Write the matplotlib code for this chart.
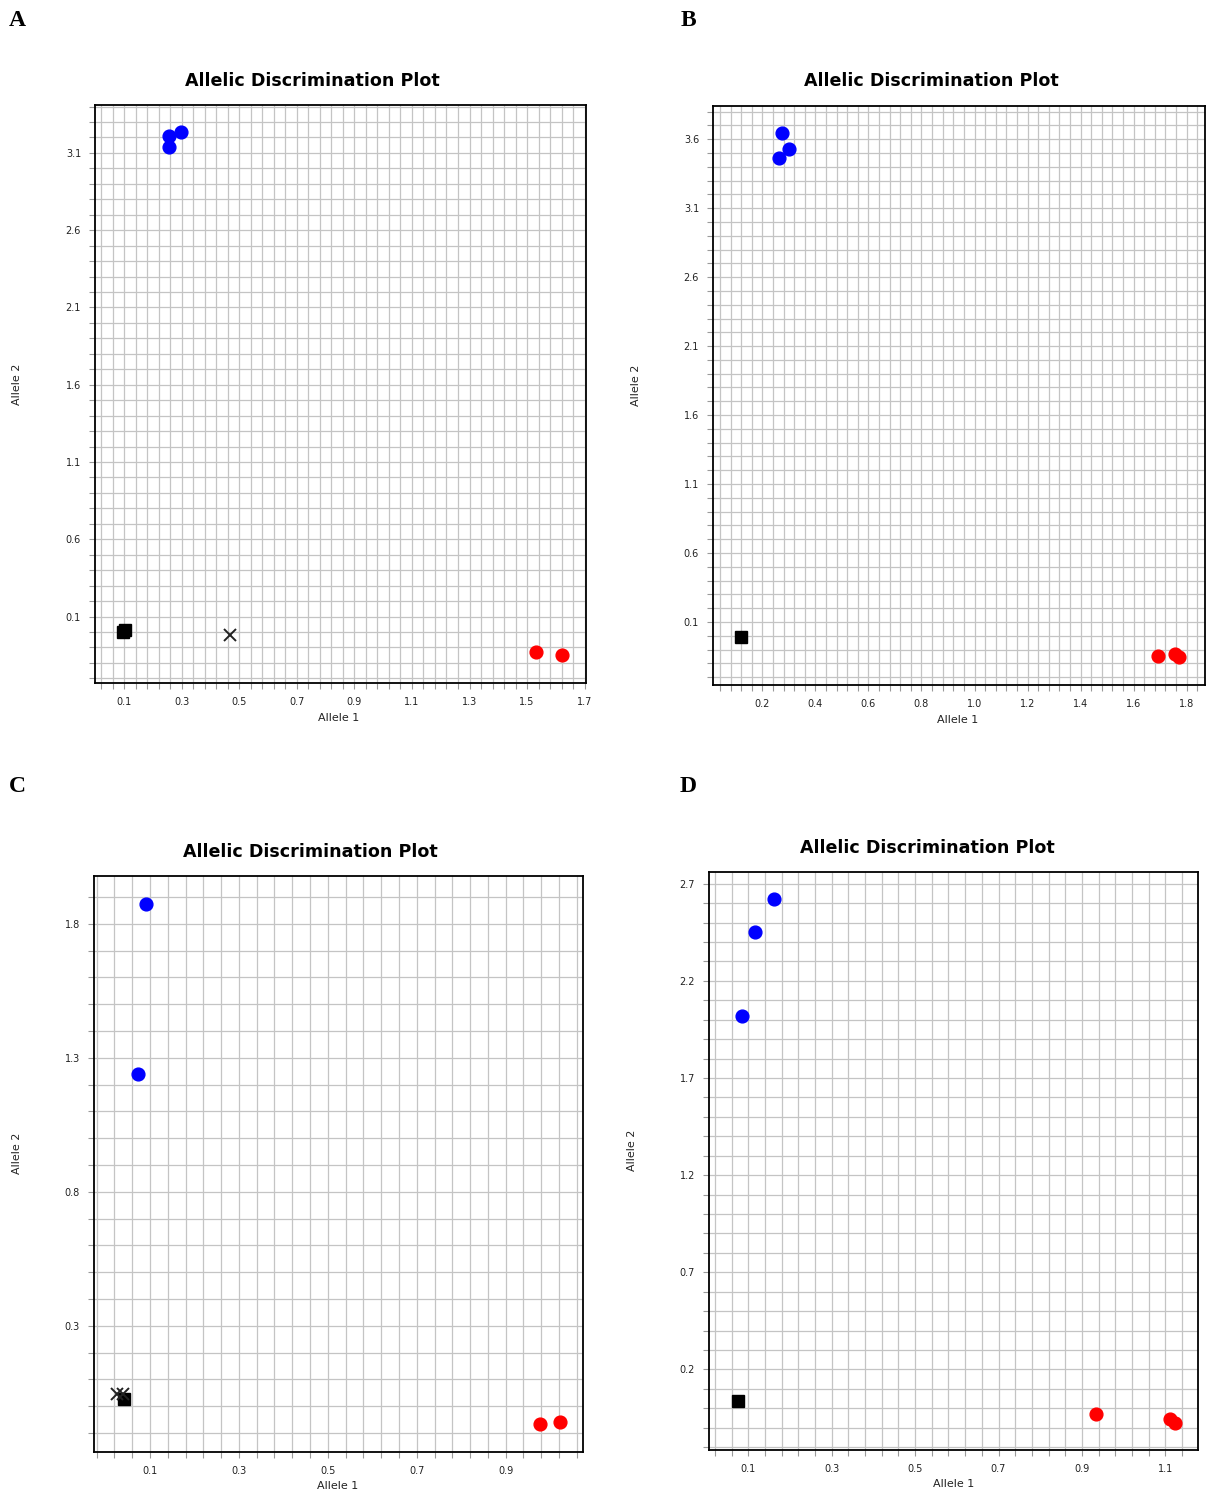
"""
Four allelic discrimination plots (panels A-D) recreated with matplotlib.
"""

import matplotlib as mpl
import matplotlib.pyplot as plt
import numpy as np

DPI = 100
mpl.rcParams.update(
    {
        "font.family": "DejaVu Sans",
        "axes.linewidth": 1.3,
        "xtick.direction": "out",
        "ytick.direction": "out",
    }
)

# ---- data (Allele 1, Allele 2) ----
A_blue_x = [0.257, 0.298, 0.257]
A_blue_y = [3.208, 3.234, 3.139]
A_red_x = [1.531, 1.622]
A_red_y = [-0.132, -0.148]
A_sq_x = [0.096, 0.101]
A_sq_y = [0.000, 0.014]
A_x_x = [0.468]
A_x_y = [-0.021]

B_blue_x = [0.273, 0.299, 0.262]
B_blue_y = [3.644, 3.527, 3.462]
B_red_x = [1.693, 1.757, 1.772]
B_red_y = [-0.143, -0.133, -0.150]
B_sq_x = [0.121]
B_sq_y = [-0.005]
B_x_x = []
B_x_y = []

C_blue_x = [0.090, 0.074]
C_blue_y = [1.875, 1.240]
C_red_x = [0.977, 1.022]
C_red_y = [-0.067, -0.058]
C_sq_x = [0.042]
C_sq_y = [0.026]
C_x_x = [0.025, 0.039]
C_x_y = [0.045, 0.047]

D_blue_x = [0.162, 0.116, 0.085]
D_blue_y = [2.621, 2.451, 2.020]
D_red_x = [0.934, 1.112, 1.124]
D_red_y = [-0.029, -0.058, -0.075]
D_sq_x = [0.076]
D_sq_y = [0.035]
D_x_x = []
D_x_y = []

# tick labels shown on each panel
A_xlabels = ["0.1", "0.3", "0.5", "0.7", "0.9", "1.1", "1.3", "1.5", "1.7"]
A_ylabels = ["0.1", "0.6", "1.1", "1.6", "2.1", "2.6", "3.1"]
B_xlabels = ["0.2", "0.4", "0.6", "0.8", "1.0", "1.2", "1.4", "1.6", "1.8"]
B_ylabels = ["0.1", "0.6", "1.1", "1.6", "2.1", "2.6", "3.1", "3.6"]
C_xlabels = ["0.1", "0.3", "0.5", "0.7", "0.9"]
C_ylabels = ["0.3", "0.8", "1.3", "1.8"]
D_xlabels = ["0.1", "0.3", "0.5", "0.7", "0.9", "1.1"]
D_ylabels = ["0.2", "0.7", "1.2", "1.7", "2.2", "2.7"]

# ---- layout (pixels in the 1206x1495 canvas) ----
W, H = 1206, 1495
PANELS = {
    # box: left, right, top, bottom ; limits ; title centre ; label positions
    "A": dict(box=(95, 586, 105, 683), xlim=(-0.002, 1.705), ylim=(-0.33, 3.41),
              title=(312, 81), xlab=(339, 718), ylab=(17, 384), letter=(17, 20)),
    "B": dict(box=(713, 1205, 106, 685), xlim=(0.014, 1.869), ylim=(-0.356, 3.84),
              title=(931, 81), xlab=(958, 720), ylab=(636, 385), letter=(688, 20)),
    "C": dict(box=(94, 583, 876, 1452), xlim=(-0.026, 1.074), ylim=(-0.171, 1.978),
              title=(310, 852), xlab=(338, 1486), ylab=(17, 1153), letter=(17, 787)),
    "D": dict(box=(709, 1198, 872, 1450), xlim=(0.006, 1.178), ylim=(-0.215, 2.76),
              title=(927, 848), xlab=(954, 1484), ylab=(632, 1150), letter=(688, 787)),
}

DATA = {
    "A": (A_blue_x, A_blue_y, A_red_x, A_red_y, A_sq_x, A_sq_y, A_x_x, A_x_y, A_xlabels, A_ylabels),
    "B": (B_blue_x, B_blue_y, B_red_x, B_red_y, B_sq_x, B_sq_y, B_x_x, B_x_y, B_xlabels, B_ylabels),
    "C": (C_blue_x, C_blue_y, C_red_x, C_red_y, C_sq_x, C_sq_y, C_x_x, C_x_y, C_xlabels, C_ylabels),
    "D": (D_blue_x, D_blue_y, D_red_x, D_red_y, D_sq_x, D_sq_y, D_x_x, D_x_y, D_xlabels, D_ylabels),
}

X_STEP = 0.04  # grid spacing, labels every 5th line
Y_STEP = 0.1


def grid_ticks(labels, step, lim):
    """Grid positions anchored on the first label, plus label text every 5th line."""
    start = float(labels[0])
    k0 = int(np.ceil((lim[0] - start) / step - 1e-6))
    k1 = int(np.floor((lim[1] - start) / step + 1e-6))
    pos, txt = [], []
    for k in range(k0, k1 + 1):
        pos.append(start + k * step)
        txt.append(f"{start + k * step:.1f}" if k % 5 == 0 and k >= 0 else "")
    return pos, txt


fig = plt.figure(figsize=(W / DPI, H / DPI), dpi=DPI)

for name, p in PANELS.items():
    bx, by, rx, ry, sx, sy, xx, xy, xlabels, ylabels = DATA[name]
    l, r, t, b = p["box"]
    ax = fig.add_axes([l / W, 1 - b / H, (r - l) / W, (b - t) / H])
    ax.set_xlim(p["xlim"])
    ax.set_ylim(p["ylim"])

    xpos, xtxt = grid_ticks(xlabels, X_STEP, p["xlim"])
    ypos, ytxt = grid_ticks(ylabels, Y_STEP, p["ylim"])
    ax.set_xticks(xpos)
    ax.set_xticklabels(xtxt)
    ax.set_yticks(ypos)
    ax.set_yticklabels(ytxt)
    ax.tick_params(length=4, width=0.8, color="#9a9a9a", labelsize=7, pad=6,
                   labelcolor="#222222")
    ax.grid(True, color="#c4c4c4", linewidth=0.9)
    ax.set_axisbelow(True)
    for sp in ax.spines.values():
        sp.set_color("black")

    ax.plot(bx, by, "o", color="#0000ff", ms=9.2, mec="#0000ff", ls="none", zorder=3)
    ax.plot(rx, ry, "o", color="#ff0000", ms=9.2, mec="#ff0000", ls="none", zorder=3)
    ax.plot(sx, sy, "s", color="black", ms=8.2, ls="none", zorder=3)
    ax.plot(xx, xy, "x", color="#222222", ms=9, mew=1.4, ls="none", zorder=3)

    fig.text(p["title"][0] / W, 1 - p["title"][1] / H, "Allelic Discrimination Plot",
             ha="center", va="center", fontsize=12.6, fontweight="bold")
    fig.text(p["xlab"][0] / W, 1 - p["xlab"][1] / H, "Allele 1",
             ha="center", va="center", fontsize=8, color="#222222")
    fig.text(p["ylab"][0] / W, 1 - p["ylab"][1] / H, "Allele 2", rotation=90,
             ha="center", va="center", fontsize=8, color="#222222")
    fig.text(p["letter"][0] / W, 1 - p["letter"][1] / H, name,
             ha="center", va="center", fontsize=17, fontweight="bold",
             family="Liberation Serif")

fig.savefig("out.png", dpi=DPI)
